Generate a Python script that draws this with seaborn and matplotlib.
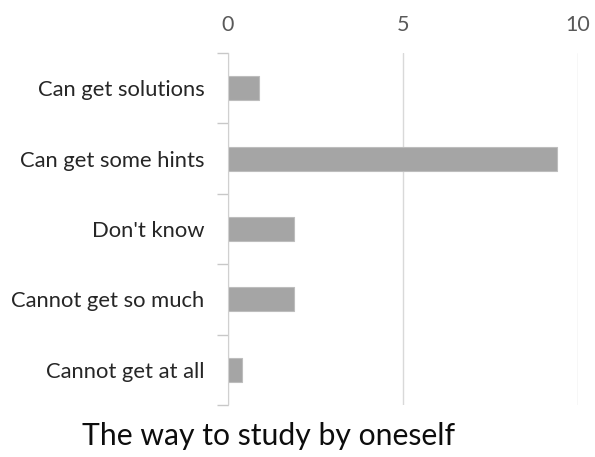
import numpy as np
import pandas as pd
import seaborn as sns
import matplotlib.pyplot as plt
from matplotlib.ticker import FixedLocator

categories = ['Can get solutions', 'Can get some hints', "Don't know",
              'Cannot get so much', 'Cannot get at all']
values = [0.9, 9.4, 1.9, 1.9, 0.4]
x_ticks = [0, 5, 10]
title = 'The way to study by oneself'

sns.set_style('white')
plt.rcParams['font.family'] = ['Lato', 'DejaVu Sans']

df = pd.DataFrame({'category': categories, 'value': values})

fig = plt.figure(figsize=(5.95, 4.57), dpi=100)
ax = fig.add_axes([0.383, 0.114, 0.588, 0.770])
sns.barplot(data=df, x='value', y='category', orient='h', color='#a5a5a5',
            edgecolor='#bdbdbd', linewidth=0.8, width=0.34, saturation=1, ax=ax)

ax.set_xlim(0, 10)
ax.set_ylim(4.5, -0.5)
ax.set_xticks(x_ticks)
ax.xaxis.tick_top()
ax.tick_params(axis='x', length=0, pad=13, labelsize=15.5, labelcolor='#595959')
ax.tick_params(axis='y', which='major', length=0, pad=17, labelsize=15.8, labelcolor='#262626')
ax.yaxis.set_minor_locator(FixedLocator(np.arange(-0.5, len(categories), 1)))
ax.tick_params(axis='y', which='minor', left=True, length=8, color='#c8c8c8', width=1)
ax.grid(axis='x', color='#d9d9d9', linewidth=1)
ax.set_axisbelow(True)
for s in ['top', 'right', 'bottom']:
    ax.spines[s].set_visible(False)
ax.spines['left'].set_color('#d0d0d0')
ax.set_xlabel('')
ax.set_ylabel('')

fig.text(0.452, 0.046, title, ha='center', va='center', fontsize=21.7, color='#0d0d0d')

fig.savefig('out.png', dpi=100)
